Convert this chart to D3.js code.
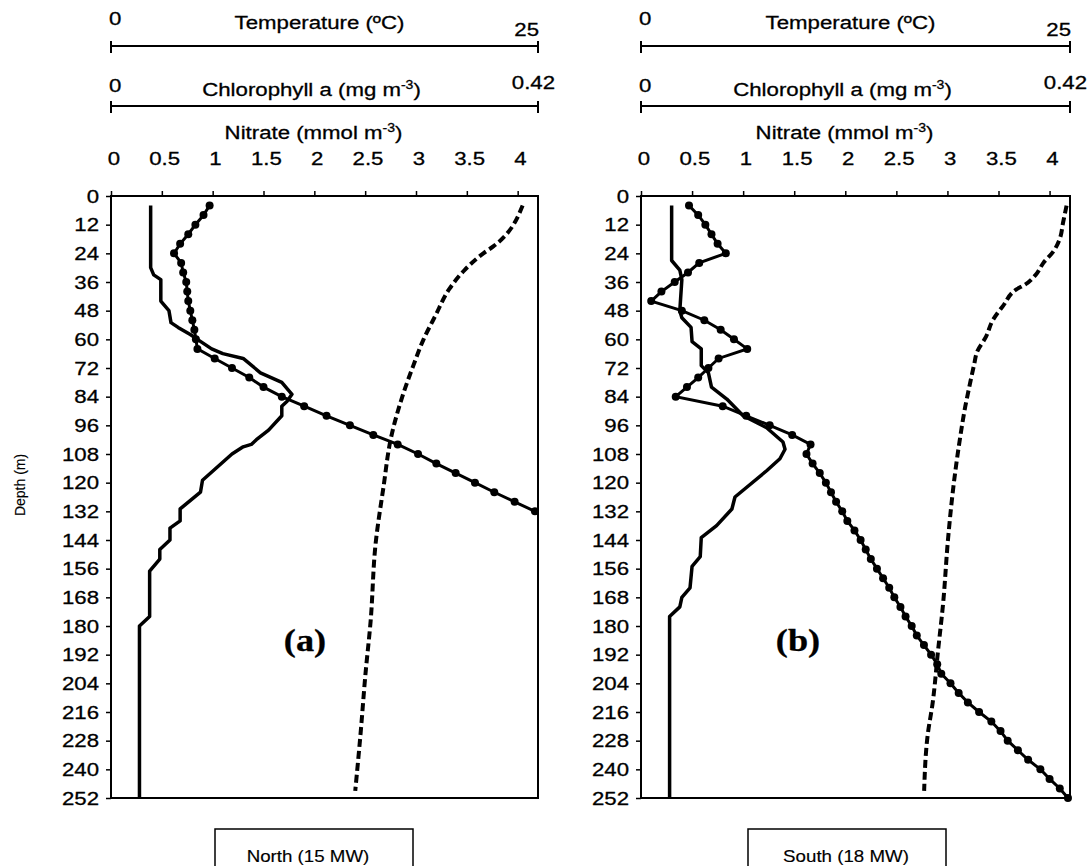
<!DOCTYPE html>
<html>
<head>
<meta charset="utf-8">
<script src="https://cdn.jsdelivr.net/npm/d3@7"></script>
<style>
  body { margin: 0; background: #fff; }
  text { font-family: "Liberation Sans", Arial, sans-serif; fill: #000; stroke: #000; stroke-width: 0.3px; }
</style>
</head>
<body>
<svg id="chart"></svg>
<script>
const width = 1090;
const height = 866;

const depthTicks = [0, 12, 24, 36, 48, 60, 72, 84, 96, 108, 120, 132, 144, 156, 168, 180, 192, 204, 216, 228, 240, 252];
const nitrateTicks = [0, 0.5, 1, 1.5, 2, 2.5, 3, 3.5, 4];

// North (15 MW)
const northTempDepth = [4, 21, 24, 31, 39, 50, 60, 71, 83, 101, 122, 145, 178, 200, 226, 249];
const northTemp = [24.1, 22.4, 21.8, 20.7, 19.8, 19.0, 18.3, 17.7, 17.1, 16.4, 15.95, 15.5, 15.2, 14.9, 14.6, 14.3];

const northChlDepth = [4, 30, 33, 35, 44, 48, 53, 55, 58, 60, 64, 66, 68, 74, 78, 83, 86, 88, 92, 98, 102, 104, 105, 108, 119, 124, 131, 136, 139, 144, 148, 152, 157, 176, 180, 252];
const northChl = [0.039, 0.039, 0.042, 0.049, 0.049, 0.057, 0.059, 0.066, 0.078, 0.085, 0.099, 0.11, 0.13, 0.147, 0.168, 0.178, 0.173, 0.168, 0.168, 0.155, 0.143, 0.138, 0.13, 0.119, 0.09, 0.088, 0.068, 0.068, 0.058, 0.058, 0.048, 0.048, 0.038, 0.038, 0.028, 0.028];

const northNitDepth = [4, 8, 12, 16, 20, 24, 28, 32, 36, 40, 44, 48, 52, 56, 60, 64, 68, 72, 76, 80, 84, 88, 92, 96, 100, 104, 108, 112, 116, 120, 124, 128, 132];
const northNit = [0.97, 0.91, 0.83, 0.76, 0.68, 0.62, 0.69, 0.71, 0.74, 0.75, 0.76, 0.78, 0.80, 0.82, 0.835, 0.85, 1.02, 1.19, 1.36, 1.5, 1.68, 1.9, 2.12, 2.35, 2.58, 2.82, 3.02, 3.2, 3.39, 3.58, 3.77, 3.97, 4.17];

// South (18 MW)
const southTempDepth = [4, 11, 18, 23, 28, 33, 37, 39, 46, 52, 59, 65, 71, 81, 88, 101, 122, 143, 171, 191, 212, 226, 249];
const southTemp = [24.8, 24.6, 24.4, 24.05, 23.45, 23.0, 22.4, 21.9, 21.1, 20.5, 20.1, 19.6, 19.4, 19.1, 18.9, 18.6, 18.2, 17.9, 17.6, 17.3, 17.0, 16.7, 16.5];

const southChlDepth = [4, 27, 31, 35, 48, 51, 55, 61, 64, 71, 74, 80, 85, 92, 97, 103, 106, 110, 115, 126, 131, 138, 143, 151, 155, 164, 168, 172, 176, 252];
const southChl = [0.03, 0.03, 0.038, 0.04, 0.038, 0.04, 0.049, 0.05, 0.059, 0.059, 0.066, 0.069, 0.084, 0.1, 0.123, 0.139, 0.141, 0.136, 0.123, 0.092, 0.089, 0.074, 0.059, 0.058, 0.05, 0.048, 0.04, 0.038, 0.028, 0.028];

const southNitDepth = [4, 8, 12, 16, 20, 24, 28, 32, 36, 40, 44, 48, 52, 56, 60, 64, 68, 72, 76, 80, 84, 88, 92, 96, 100, 104, 108, 112, 116, 120, 124, 128, 132, 136, 140, 144, 148, 152, 156, 160, 164, 168, 172, 176, 180, 184, 188, 192, 196, 200, 204, 208, 212, 216, 220, 224, 228, 232, 236, 240, 244, 248, 252];
const southNit = [0.47, 0.56, 0.63, 0.69, 0.75, 0.83, 0.57, 0.46, 0.33, 0.2, 0.1, 0.4, 0.62, 0.78, 0.91, 1.04, 0.76, 0.66, 0.56, 0.45, 0.34, 0.8, 1.03, 1.26, 1.48, 1.66, 1.62, 1.68, 1.75, 1.81, 1.86, 1.91, 1.97, 2.02, 2.09, 2.15, 2.2, 2.25, 2.31, 2.37, 2.43, 2.48, 2.54, 2.59, 2.65, 2.7, 2.77, 2.84, 2.9, 2.94, 3.03, 3.11, 3.2, 3.31, 3.43, 3.52, 3.59, 3.69, 3.79, 3.91, 4.0, 4.1, 4.18];

const panels = [
  { id: "n", x0: 111, x1: 538, label: "(a)", labelX: 305, site: "North (15 MW)", siteX: 308, boxX: 215, showDepthTitle: true,
    temp: [northTempDepth, northTemp], chl: [northChlDepth, northChl], nit: [northNitDepth, northNit] },
  { id: "s", x0: 641, x1: 1070, label: "(b)", labelX: 798, site: "South (18 MW)", siteX: 846, boxX: 748, showDepthTitle: false,
    temp: [southTempDepth, southTemp], chl: [southChlDepth, southChl], nit: [southNitDepth, southNit] }
];

const plotTop = 196, plotBottom = 798;
const SX = 1.17; // the figure's lettering is a little wider than plain Arial
const svg = d3.select("#chart").attr("width", width).attr("height", height);
const y = d3.scaleLinear().domain([0, 252]).range([plotTop, plotBottom]);

const zip = (ds, vs) => ds.map((d, i) => ({ depth: d, value: vs[i] }));

function addText(sel, x, yy, txt, size, anchor) {
  return sel.append("text")
    .attr("transform", `translate(${x},${yy}) scale(${SX},1)`)
    .attr("text-anchor", anchor || "start")
    .attr("font-size", size)
    .text(txt);
}
function addSup(t) {
  t.append("tspan").attr("font-size", 12).attr("dy", -7).text("-3");
  t.append("tspan").attr("dy", 7).text(")");
}

panels.forEach((p) => {
  const xTemp = d3.scaleLinear().domain([0, 25]).range([p.x0, p.x1]);
  const xChl = d3.scaleLinear().domain([0, 0.42]).range([p.x0, p.x1]);
  const xNit = d3.scaleLinear().domain([0, 4.2]).range([p.x0, p.x1]);
  const g = svg.append("g");
  const mid = (p.x0 + p.x1) / 2;

  // top range bars for temperature and chlorophyll
  const bars = [
    { scale: xTemp, yy: 46, hi: "25", hiDx: 1, hiY: 36, title: "Temperature (ºC)", titleDx: -5, titleY: 29, loY: 25, sup: false },
    { scale: xChl, yy: 106, hi: "0.42", hiDx: 17, hiY: 89, title: "Chlorophyll a (mg m", titleDx: -13, titleY: 96, loY: 92, sup: true }
  ];
  bars.forEach((b) => {
    const [a, c] = b.scale.range();
    g.append("line").attr("x1", a).attr("x2", c).attr("y1", b.yy).attr("y2", b.yy)
      .attr("stroke", "#000").attr("stroke-width", 2);
    [a, c].forEach((xx) => g.append("line").attr("x1", xx).attr("x2", xx)
      .attr("y1", b.yy - 5).attr("y2", b.yy + 7).attr("stroke", "#000").attr("stroke-width", 2));
    addText(g, a - 2, b.loY, "0", 19);
    addText(g, c + b.hiDx, b.hiY, b.hi, 19, "end");
    const t = addText(g, mid + b.titleDx, b.titleY, b.title, 19, "middle");
    if (b.sup) addSup(t);
  });

  addSup(addText(g, mid - 11, 139, "Nitrate (mmol m", 19, "middle"));

  // axes
  const xAxis = g.append("g").attr("transform", `translate(0,${plotTop})`)
    .call(d3.axisTop(xNit).tickValues(nitrateTicks).tickSize(5).tickPadding(26)
      .tickFormat((d) => String(d)));
  const yAxis = g.append("g").attr("transform", `translate(${p.x0},0)`)
    .call(d3.axisLeft(y).tickValues(depthTicks).tickSize(5));
  [xAxis, yAxis].forEach((ax) => {
    ax.select(".domain").remove();
    ax.selectAll("line").attr("stroke", "#000").attr("stroke-width", 1.5);
    ax.selectAll("text").attr("font-size", 19).attr("font-family", "Liberation Sans, Arial, sans-serif")
      .attr("transform", `scale(${SX},1)`);
  });
  xAxis.selectAll("text").attr("x", 2);
  yAxis.selectAll("text").attr("x", -12 / SX);

  g.append("rect").attr("x", p.x0).attr("y", plotTop).attr("width", p.x1 - p.x0).attr("height", plotBottom - plotTop)
    .attr("fill", "none").attr("stroke", "#000").attr("stroke-width", 2);

  svg.append("clipPath").attr("id", "clip-" + p.id).append("rect")
    .attr("x", p.x0).attr("y", plotTop).attr("width", p.x1 - p.x0).attr("height", plotBottom - plotTop);
  const plot = g.append("g").attr("clip-path", `url(#clip-${p.id})`);

  // temperature (dashed)
  plot.append("path").datum(zip(...p.temp))
    .attr("d", d3.line().x((d) => xTemp(d.value)).y((d) => y(d.depth)).curve(d3.curveMonotoneY))
    .attr("fill", "none").attr("stroke", "#000").attr("stroke-width", 4).attr("stroke-dasharray", "8,4");

  // chlorophyll (solid)
  plot.append("path").datum(zip(...p.chl))
    .attr("d", d3.line().x((d) => xChl(d.value)).y((d) => y(d.depth)))
    .attr("fill", "none").attr("stroke", "#000").attr("stroke-width", 3.5).attr("stroke-linejoin", "round");

  // nitrate (line + markers)
  const nit = zip(...p.nit);
  plot.append("path").datum(nit)
    .attr("d", d3.line().x((d) => xNit(d.value)).y((d) => y(d.depth)))
    .attr("fill", "none").attr("stroke", "#000").attr("stroke-width", 3);
  g.selectAll(".dot-" + p.id).data(nit).enter().append("circle")
    .attr("class", "dot-" + p.id)
    .attr("cx", (d) => xNit(d.value)).attr("cy", (d) => y(d.depth)).attr("r", 4).attr("fill", "#000");

  // panel label
  g.append("text").attr("transform", `translate(${p.labelX},651) scale(${SX},1)`).attr("text-anchor", "middle")
    .style("font-family", "Liberation Serif, Times New Roman, serif").attr("font-weight", "bold")
    .attr("font-size", 31).text(p.label);

  // site box
  g.append("rect").attr("x", p.boxX).attr("y", 829).attr("width", 198).attr("height", 50)
    .attr("fill", "#fff").attr("stroke", "#000").attr("stroke-width", 1.5);
  addText(g, p.siteX, 862, p.site, 16, "middle").style("stroke-width", "0.15px");

  if (p.showDepthTitle) {
    g.append("text").attr("transform", `translate(25,485) rotate(-90)`)
      .attr("text-anchor", "middle").attr("font-size", 14).style("stroke-width", "0.15px").text("Depth (m)");
  }
});
</script>
</body>
</html>
